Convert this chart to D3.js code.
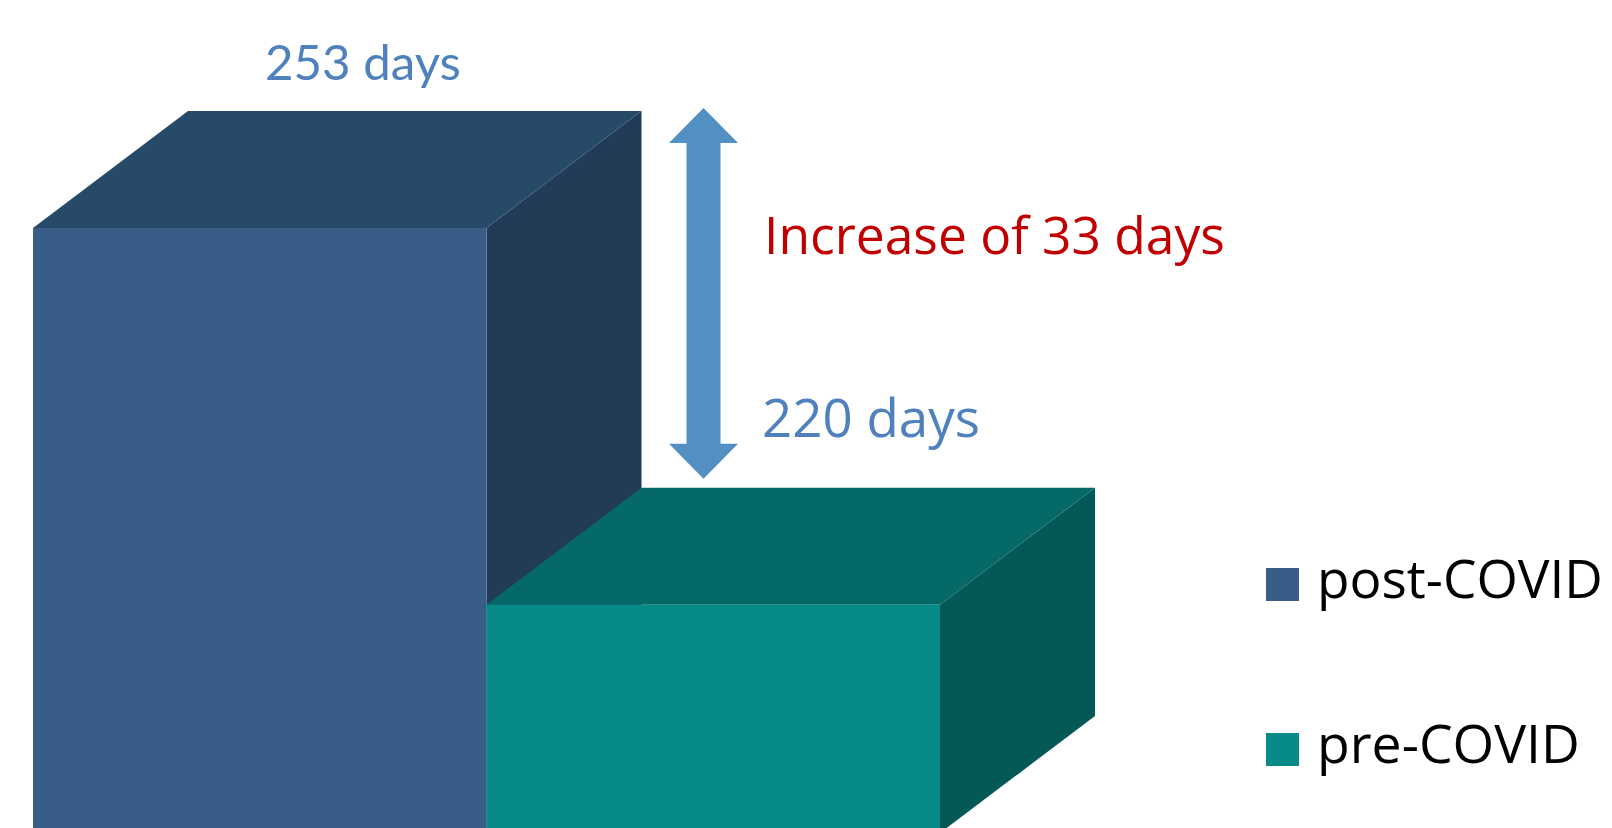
<!DOCTYPE html>
<html>
<head>
<meta charset="utf-8">
<script src="https://cdn.jsdelivr.net/npm/d3@7"></script>
<style>
  html, body { margin: 0; padding: 0; background: #ffffff; overflow: hidden; }
  svg { display: block; }
</style>
</head>
<body>
<script>
// ---- data ----
const categories = ["post-COVID", "pre-COVID"];
const values = [253, 220];
const valueLabels = ["253 days", "220 days"];
const diffLabel = "Increase of 33 days";
const legendLabels = ["post-COVID", "pre-COVID"];

// ---- styles ----
const frontColors = ["#385e88", "#078a88"];
const topColors   = ["#284a69", "#056968"];
const sideColors  = ["#223b57", "#045957"];
const labelBlue = "#4f81bd";
const arrowBlue = "#528fc3";
const red = "#c00000";

const W = 1612, H = 828;
const svg = d3.select("body").append("svg").attr("width", W).attr("height", H);

const x = d3.scaleBand().domain(categories).range([33, 940]).padding(0);
const y = d3.scaleLinear().domain([200, 253]).range([833, 228]);
const depthX = 155, depthY = 117;

const bars = categories.map((c, i) => ({ c, v: values[i], i }));

const g = svg.append("g");
bars.forEach(d => {
  const x0 = x(d.c), x1 = x(d.c) + x.bandwidth();
  const yt = y(d.v), yb = y(200);
  const bar = g.append("g");
  // side face
  bar.append("path")
    .attr("d", `M${x1},${yt}L${x1 + depthX},${yt - depthY}L${x1 + depthX},${yb - depthY}L${x1},${yb}Z`)
    .attr("fill", sideColors[d.i]);
  // top face
  bar.append("path")
    .attr("d", `M${x0},${yt}L${x0 + depthX},${yt - depthY}L${x1 + depthX},${yt - depthY}L${x1},${yt}Z`)
    .attr("fill", topColors[d.i]);
  // front face
  bar.append("rect")
    .attr("x", x0).attr("y", yt).attr("width", x.bandwidth()).attr("height", yb - yt)
    .attr("fill", frontColors[d.i]);
});

// fit text width helper
function fit(sel, target) {
  const fs = parseFloat(sel.attr("font-size"));
  const w = sel.node().getComputedTextLength();
  if (w > 0) {
    let k = target / w;
    k = Math.max(0.85, Math.min(1.15, k));
    sel.attr("font-size", fs * k);
  }
  return sel;
}

// value labels
const t1 = svg.append("text")
  .attr("x", 265).attr("y", y(values[0]) - depthY - 31)
  .attr("font-family", "Lato, 'Open Sans', sans-serif").attr("font-size", 51)
  .attr("fill", labelBlue).text(valueLabels[0]);
fit(t1, 196);

const t2 = svg.append("text")
  .attr("x", 762).attr("y", y(values[1]) - depthY - 51)
  .attr("font-family", "'Open Sans', sans-serif").attr("font-size", 51)
  .attr("fill", labelBlue).text(valueLabels[1]);
fit(t2, 218);

// difference arrow
const ax = 703.5;
const aTop = y(values[0]) - depthY - 3;
const aBot = y(values[1]) - depthY - 9;
const headH = 35, headW = 34.5, shaftW = 17;
svg.append("path")
  .attr("d", `M${ax},${aTop}L${ax + headW},${aTop + headH}L${ax + shaftW},${aTop + headH}` +
             `L${ax + shaftW},${aBot - headH}L${ax + headW},${aBot - headH}L${ax},${aBot}` +
             `L${ax - headW},${aBot - headH}L${ax - shaftW},${aBot - headH}L${ax - shaftW},${aTop + headH}` +
             `L${ax - headW},${aTop + headH}Z`)
  .attr("fill", arrowBlue);

const t3 = svg.append("text")
  .attr("x", 764).attr("y", 254)
  .attr("font-family", "'Open Sans', sans-serif").attr("font-size", 51)
  .attr("fill", red).text(diffLabel);
fit(t3, 461);

// legend
const legendY = [568, 733];
const legendW = [286, 263];
legendLabels.forEach((l, i) => {
  svg.append("rect").attr("x", 1266).attr("y", legendY[i]).attr("width", 33).attr("height", 33)
    .attr("fill", frontColors[i]);
  const t = svg.append("text")
    .attr("x", 1317).attr("y", legendY[i] + 30)
    .attr("font-family", "'Open Sans', sans-serif").attr("font-size", 50)
    .attr("fill", "#000").text(l);
  fit(t, legendW[i]);
});
</script>
</body>
</html>
